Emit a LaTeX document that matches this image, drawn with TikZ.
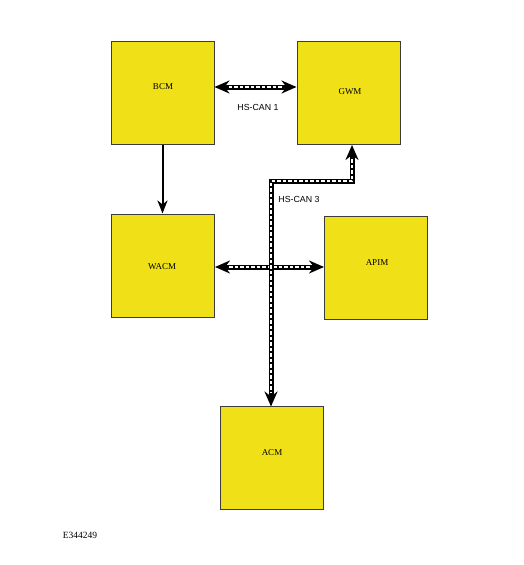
\documentclass[tikz,border=0pt]{standalone}
\usepackage{fontspec}
\setmainfont{Liberation Serif}
\newfontfamily\arialfont{Liberation Sans}
\usetikzlibrary{arrows.meta,calc}
\definecolor{boxyellow}{RGB}{240,224,24}
\definecolor{boxedge}{RGB}{60,60,60}
\tikzset{
  modbox/.style={draw=boxedge, line width=1pt, fill=boxyellow, minimum width=103pt, minimum height=103pt, inner sep=0pt},
  modlabel/.style={font=\fontsize{9}{10}\selectfont, inner sep=0pt},
  buslabel/.style={font=\arialfont\fontsize{8.8}{10}\selectfont, inner sep=0pt},
  bus/.style={line width=5pt, line join=miter, >={Stealth[length=15pt,width=13pt,inset=5pt]}, <->,
    postaction={draw=white, line width=1.6pt, arrows=-, dash pattern=on 3.5pt off 2pt, shorten >=14pt, shorten <=14pt}},
  solidarrow/.style={draw=black, line width=2pt, -{Stealth[length=13pt,width=10pt,inset=4pt]}}
}
\begin{document}
\begin{tikzpicture}[x=1pt,y=-1pt]
\useasboundingbox[fill=white] (0,0) rectangle (523,565);
\node[modbox] (bcm) at (162.5,92.5) {};
\node[modbox] (gwm) at (348.5,93) {};
\node[modbox] (wacm) at (163,265.5) {};
\node[modbox] (apim) at (376,267.5) {};
\node[modbox] (acm) at (272,458) {};
\node[modlabel] (bcmt) at (163,87) {BCM};
\node[modlabel] (gwmt) at (350,92) {GWM};
\node[modlabel] (wacmt) at (162,267) {WACM};
\node[modlabel] (apimt) at (377,263) {APIM};
\node[modlabel] (acmt) at (272,453) {ACM};
\node[buslabel] (can1) at (258,107) {HS-CAN 1};
\node[buslabel] (can3) at (299,199) {HS-CAN 3};
\node[font=\fontsize{9.5}{11}\selectfont, inner sep=0pt] (eid) at (80,535) {E344249};
\coordinate (gwmin) at ($(gwm.south)+(3.5,0)$);
\coordinate (bend1) at (352,181);
\coordinate (bend2) at (271,181);
\coordinate (acmin) at (271,406.5);
% BCM -> WACM
\draw[solidarrow] (bcm.south) -- (bcm.south |- wacm.north);
% HS-CAN 1
\draw[bus] (bcm.east |- 0,87) -- (gwm.west |- 0,87);
% WACM <-> APIM
\draw[bus] (wacm.east |- 0,267) -- (apim.west |- 0,267);
% HS-CAN 3
\draw[bus] (gwmin) -- (bend1) -- (bend2) -- (acmin);
\end{tikzpicture}
\end{document}
